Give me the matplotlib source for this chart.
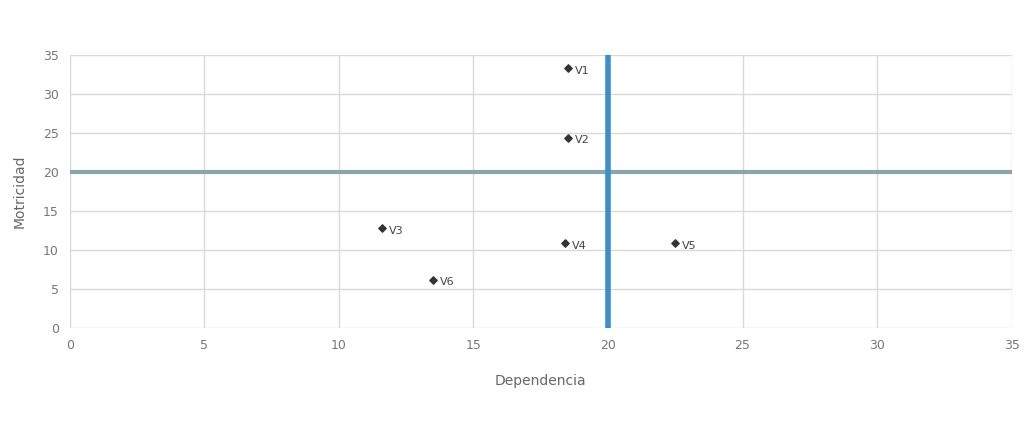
import matplotlib.pyplot as plt
import numpy as np

# Datos: dependencia (x) vs motricidad (y)
etiquetas = ['V1', 'V2', 'V3', 'V4', 'V5', 'V6']
dependencia = [18.5, 18.5, 11.6, 18.4, 22.5, 13.5]
motricidad = [33.3, 24.4, 12.8, 10.9, 10.9, 6.2]
media_x = 20
media_y = 20
x_ticks = [0, 5, 10, 15, 20, 25, 30, 35]
y_ticks = [0, 5, 10, 15, 20, 25, 30, 35]

fig = plt.figure(figsize=(10.27, 4.23), dpi=100)
ax = fig.add_axes([0.068, 0.2246, 0.917, 0.6454])

ax.grid(True, color='#d9d9d9', lw=1)
ax.set_axisbelow(True)
for s in ax.spines.values():
    s.set_visible(False)

ax.axhline(media_y, color='#8aa5ab', lw=3, zorder=2)
ax.axvline(media_x, color='#3a8fd0', lw=4, zorder=2)

ax.scatter(dependencia, motricidad, s=14, color='#333333', marker='D', zorder=3)
for lab, x, y in zip(etiquetas, dependencia, motricidad):
    ax.annotate(lab, (x, y), xytext=(5, -2), textcoords='offset points',
                fontsize=8, color='#444444', va='center')

ax.set_xlim(0, 35)
ax.set_ylim(0, 35)
ax.set_xticks(x_ticks)
ax.set_yticks(y_ticks)
ax.tick_params(length=0, labelsize=9, labelcolor='#777777', pad=8)
ax.set_xlabel('Dependencia', fontsize=10, color='#666666', labelpad=16)
ax.set_ylabel('Motricidad', fontsize=10, color='#666666', labelpad=12)

fig.savefig('out.png', dpi=100)
